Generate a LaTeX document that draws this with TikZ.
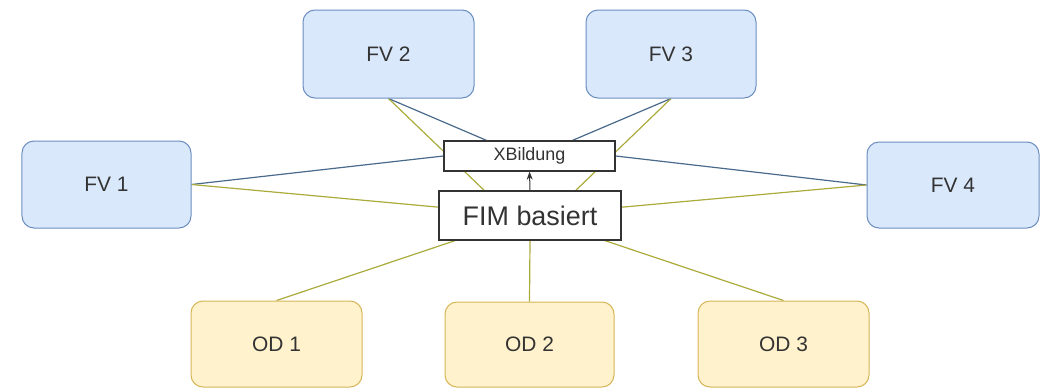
\documentclass[tikz,border=0pt]{standalone}
\usepackage{fontspec}
\setmainfont{Liberation Sans}
\usetikzlibrary{arrows.meta,calc,backgrounds}
\definecolor{bluefill}{HTML}{DAE8FC}
\definecolor{bluestroke}{HTML}{6C8EBF}
\definecolor{yelfill}{HTML}{FFF2CC}
\definecolor{yelstroke}{HTML}{D6B656}
\definecolor{blueline}{HTML}{4A6A8C}
\definecolor{oliveline}{HTML}{ABAB3C}
\definecolor{txt}{HTML}{333333}
\begin{document}
\begin{tikzpicture}[x=1bp,y=-1bp,
  fvbox/.style={draw=bluestroke, fill=bluefill, rounded corners=12bp, line width=1bp, inner sep=0pt, text=txt, font=\fontsize{21}{25}\selectfont},
  odbox/.style={draw=yelstroke, fill=yelfill, rounded corners=12bp, line width=1bp, inner sep=0pt, text=txt, font=\fontsize{21}{25}\selectfont},
  plainbox/.style={draw=txt, fill=white, line width=1.3bp, inner sep=0pt, text=txt},
  bline/.style={draw=blueline, line width=1.2bp},
  yline/.style={draw=oliveline, line width=1.2bp},
]
\useasboundingbox (0,0) rectangle (1046,388);
\node[fvbox, minimum width=169bp, minimum height=87bp] (fv1) at (106.5,184.5) {FV 1};
\node[fvbox, minimum width=171bp, minimum height=88bp] (fv2) at (388.5,54) {FV 2};
\node[fvbox, minimum width=170bp, minimum height=88bp] (fv3) at (671,54) {FV 3};
\node[fvbox, minimum width=172bp, minimum height=86bp] (fv4) at (953,185) {FV 4};
\node[odbox, minimum width=171bp, minimum height=86bp] (od1) at (276.5,344) {OD 1};
\node[odbox, minimum width=169bp, minimum height=85bp] (od2) at (529.5,344.5) {OD 2};
\node[odbox, minimum width=171bp, minimum height=86bp] (od3) at (783.5,344) {OD 3};
\node[plainbox, minimum width=171bp, minimum height=30bp, font=\fontsize{18}{21}\selectfont] (xb) at (529.5,156) {XBildung};
\node[plainbox, minimum width=182bp, minimum height=49bp, font=\fontsize{27}{32}\selectfont] (fim) at (530,215.5) {FIM basiert};
\begin{pgfonlayer}{background}
\draw[bline] (fv1.east) -- (xb.west);
\draw[bline] (fv4.west) -- (xb.east);
\draw[bline] (fv2.south) -- ($(xb.north west)!0.25!(xb.north east)$);
\draw[bline] (fv3.south) -- ($(xb.north west)!0.75!(xb.north east)$);
\draw[yline] (fv1.east) -- (fim);
\draw[yline] (fv4.west) -- (fim);
\draw[yline] (fv2.south) -- ($(fim.north west)!0.25!(fim.north east)$);
\draw[yline] (fv3.south) -- ($(fim.north west)!0.75!(fim.north east)$);
\draw[yline] (od1.north) -- (fim);
\draw[yline] (od2.north) -- (fim.south);
\draw[yline] (od3.north) -- (fim);
\end{pgfonlayer}
\draw[draw=txt, line width=1bp, -{Stealth[length=8bp,width=6bp]}] (fim.north) -- (xb.south);
\end{tikzpicture}
\end{document}
